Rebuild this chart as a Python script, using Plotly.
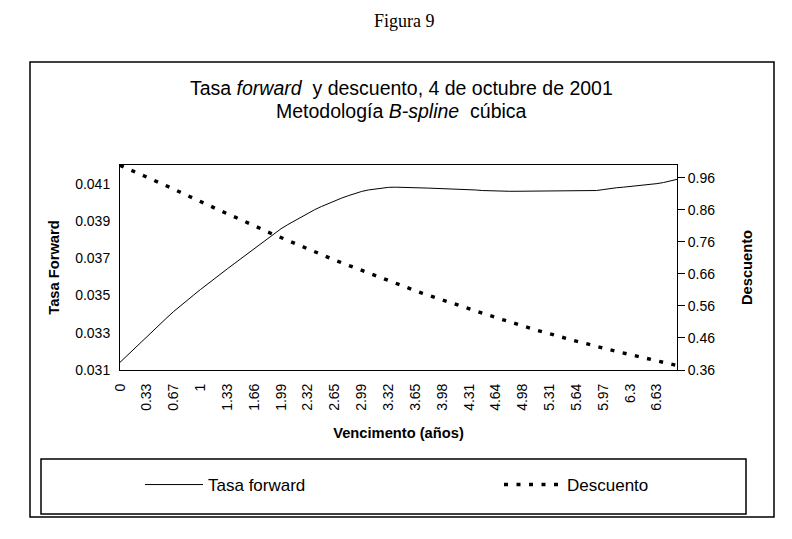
import plotly.graph_objects as go

# ---------------- data ----------------
x_labels = ["0", "0.33", "0.67", "1", "1.33", "1.66", "1.99", "2.32", "2.65", "2.99",
            "3.32", "3.65", "3.98", "4.31", "4.64", "4.98", "5.31", "5.64", "5.97", "6.3", "6.63"]
label_every = 4  # one label every 4 monthly categories

forward = [
    0.03141, 0.03176, 0.03211, 0.03245, 0.03280, 0.03314, 0.03348, 0.03381, 0.03414, 0.03445,
    0.03474, 0.03503, 0.03532, 0.03561, 0.03589, 0.03616, 0.03643, 0.03670, 0.03697, 0.03724,
    0.03751, 0.03778, 0.03805, 0.03832, 0.03858, 0.03880, 0.03900, 0.03922, 0.03942, 0.03960,
    0.03977, 0.03993, 0.04008, 0.04022, 0.04035, 0.04047, 0.04058, 0.04066, 0.04072, 0.04077,
    0.04080, 0.04081, 0.04081, 0.04080, 0.04078, 0.04077, 0.04076, 0.04075, 0.04074, 0.04073,
    0.04072, 0.04070, 0.04068, 0.04066, 0.04063, 0.04061, 0.04060, 0.04060, 0.04059, 0.04059,
    0.04059, 0.04059, 0.04059, 0.04059, 0.04059, 0.04059, 0.04059, 0.04059, 0.04059, 0.04059,
    0.04059, 0.04063, 0.04068, 0.04074, 0.04078, 0.04081, 0.04084, 0.04087, 0.04091, 0.04095,
    0.04100, 0.04106, 0.04114, 0.04123,
]

discount = [
    0.999, 0.990, 0.981, 0.972, 0.962, 0.953, 0.944, 0.934, 0.925, 0.915,
    0.905, 0.895, 0.885, 0.876, 0.867, 0.857, 0.848, 0.839, 0.830, 0.821,
    0.811, 0.801, 0.791, 0.782, 0.773, 0.764, 0.756, 0.747, 0.738, 0.729,
    0.720, 0.712, 0.703, 0.695, 0.687, 0.678, 0.670, 0.662, 0.655, 0.647,
    0.638, 0.630, 0.622, 0.614, 0.607, 0.600, 0.593, 0.586, 0.578, 0.571,
    0.564, 0.557, 0.550, 0.543, 0.536, 0.529, 0.523, 0.517, 0.511, 0.504,
    0.497, 0.491, 0.485, 0.479, 0.473, 0.466, 0.461, 0.455, 0.450, 0.445,
    0.439, 0.433, 0.428, 0.423, 0.418, 0.413, 0.407, 0.402, 0.397, 0.392,
    0.388, 0.383, 0.379, 0.374,
]

left_ticks = [0.031, 0.033, 0.035, 0.037, 0.039, 0.041]
right_ticks = [0.36, 0.46, 0.56, 0.66, 0.76, 0.86, 0.96]

# ---------------- figure ----------------
OFF = 8  # page body margin of the browser
W, H = 792 - OFF, 539 - OFF
ML, MR, MT, MB = 120 - OFF, 792 - 677, 165 - OFF, 539 - 370
PW, PH = W - ML - MR, H - MT - MB


def px(xp):
    """reference-screenshot x pixel -> paper coordinate"""
    return (xp - OFF - ML) / PW


def py(yp):
    """reference-screenshot y pixel -> paper coordinate"""
    return (H - MB - (yp - OFF)) / PH


idx = list(range(len(forward)))
FONT = "Liberation Sans, Arial, sans-serif"

fig = go.Figure()
fig.add_trace(go.Scatter(
    x=idx, y=forward, mode="lines", name="Tasa forward",
    line=dict(color="black", width=1), legend="legend", yaxis="y",
))
fig.add_trace(go.Scatter(
    x=idx, y=discount, mode="lines", name="Descuento",
    line=dict(color="black", width=3.4, dash="4px,8.5px"), legend="legend2", yaxis="y2",
))

fig.update_layout(
    width=W, height=H,
    margin=dict(l=ML, r=MR, t=MT, b=MB, autoexpand=False),
    paper_bgcolor="white", plot_bgcolor="white",
    font=dict(family=FONT, size=14, color="black"),
    showlegend=True,
    xaxis=dict(
        range=[0, len(forward) - 1],
        tickvals=[i * label_every for i in range(len(x_labels))],
        ticktext=x_labels,
        tickangle=-90,
        ticks="outside", ticklen=7, tickcolor="rgba(0,0,0,0)",
        showgrid=False, zeroline=False,
        showline=True, linecolor="black", linewidth=1, mirror=True,
        tickfont=dict(size=14),
        title=dict(text="<b>Vencimento (años)</b>", font=dict(size=14.7), standoff=17),
    ),
    yaxis=dict(
        range=[0.031, 0.042],
        tickvals=left_ticks, tickformat=".3f",
        ticks="outside", ticklen=6, tickcolor="rgba(0,0,0,0)",
        showgrid=False, zeroline=False,
        showline=True, linecolor="black", linewidth=1, mirror=True,
        tickfont=dict(size=14),
        title=dict(text="<b>Tasa Forward</b>", font=dict(size=14.7), standoff=12),
    ),
    yaxis2=dict(
        range=[0.36, 1.0], overlaying="y", side="right",
        tickvals=right_ticks, tickformat=".2f",
        ticks="outside", ticklen=7, tickcolor="black",
        showgrid=False, zeroline=False, showline=False,
        tickfont=dict(size=14),
        title=dict(text="<b>Descuento</b>", font=dict(size=14.7), standoff=27),
    ),
    legend=dict(
        orientation="h", x=px(140), xanchor="left", y=py(485), yanchor="middle",
        font=dict(size=17), itemwidth=58, bgcolor="rgba(0,0,0,0)", borderwidth=0,
    ),
    legend2=dict(
        orientation="h", x=px(499), xanchor="left", y=py(485), yanchor="middle",
        font=dict(size=17), itemwidth=58, bgcolor="rgba(0,0,0,0)", borderwidth=0,
    ),
    shapes=[
        dict(type="rect", xref="paper", yref="paper",
             x0=px(30), x1=px(774), y0=py(517), y1=py(62),
             line=dict(color="black", width=1.5), layer="below"),
        dict(type="rect", xref="paper", yref="paper",
             x0=px(41), x1=px(746), y0=py(514), y1=py(459),
             line=dict(color="black", width=1.5), layer="below"),
    ],
    annotations=[
        dict(text="Figura 9", xref="paper", yref="paper", x=px(404), y=py(21),
             xanchor="center", yanchor="middle", showarrow=False,
             font=dict(family="Liberation Serif, Times New Roman, serif", size=18)),
        dict(text="Tasa <i>forward</i>  y descuento, 4 de octubre de 2001",
             xref="paper", yref="paper", x=px(402), y=py(88),
             xanchor="center", yanchor="middle", showarrow=False, font=dict(size=19.5)),
        dict(text="Metodología <i>B-spline</i>  cúbica",
             xref="paper", yref="paper", x=px(402), y=py(111),
             xanchor="center", yanchor="middle", showarrow=False, font=dict(size=19.5)),
    ],
)

fig.write_html("out.html")
